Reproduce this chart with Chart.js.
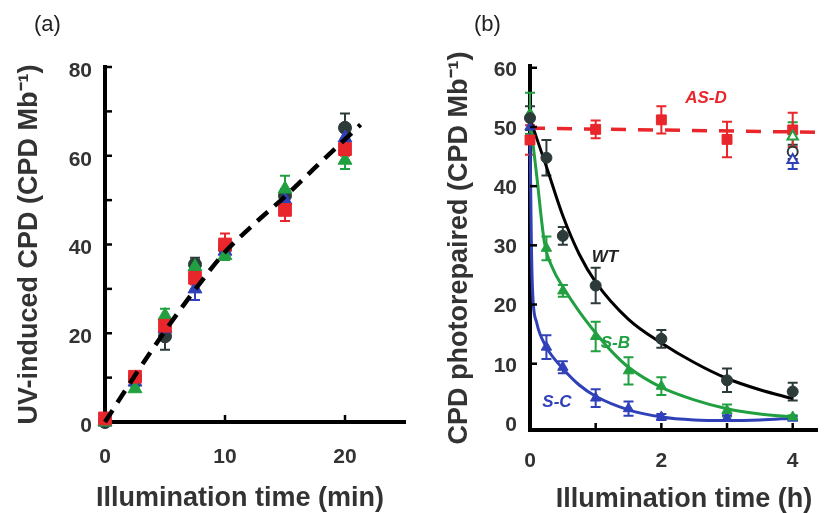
<!DOCTYPE html>
<html>
<head>
<meta charset="utf-8">
<script src="https://cdn.jsdelivr.net/npm/chart.js@4"></script>
<style>
body { margin: 0; background: #fff; width: 825px; height: 513px; overflow: hidden; position: relative; font-family: "Liberation Sans", Arial, sans-serif; }
#wa { position: absolute; left: 0; top: 0; width: 415px; height: 513px; }
#wb { position: absolute; left: 415px; top: 0; width: 410px; height: 513px; }
.tag { position: absolute; top: 11px; font-size: 22px; color: #222; }
.xt { position: absolute; width: 300px; text-align: center; font-size: 27px; font-weight: bold; color: #333; line-height: 32px; }
</style>
</head>
<body>
<div id="wa"><canvas id="chartA"></canvas></div>
<div id="wb"><canvas id="chartB"></canvas></div>
<div class="tag" style="left:34px">(a)</div>
<div class="tag" style="left:474px">(b)</div>
<div class="xt" style="left:90px;top:481px">Illumination time (min)</div>
<div class="xt" style="left:534px;top:482px">Illumination time (h)</div>
<script>
// panel (a): CPD induction
const timeA = [0, 2.5, 5, 7.5, 10, 15, 20];
const wtA = [0, 10, 19.3, 35.5, 39, 51, 66.3];
const wtErrA = [0, 0.5, 3, 1.5, 1.5, 1.5, 3.2];
const sbA = [0, 7.5, 24, 35, 37.5, 52.5, 59];
const sbErrA = [0, 0.5, 1.5, 1.5, 1, 3, 2];
const scA = [0, 9, 21, 30, 38.5, 50, 64];
const scErrA = [0, 0.5, 1, 2.5, 1, 1.5, 1.5];
const asdA = [0.8, 10.2, 21.7, 32.5, 40, 47.8, 61.5];
const asdErrA = [0, 0.5, 1, 1.5, 2.5, 2.5, 1.5];
const fitTimeA = [0, 2.5, 5, 7.5, 10, 12.5, 15, 17.5, 20, 21.3];
const fitA = [0, 10.5, 20.5, 29.8, 38.3, 44.8, 50.8, 57.3, 63.7, 67];
const xTicksA = [0, 10, 20];
const yTicksA = [0, 10, 20, 30, 40, 50, 60, 70, 80];

// panel (b): photorepair
const timeB = [0, 0.25, 0.5, 1, 1.5, 2, 3, 4];
const wtTimeB = [0, 0.25, 0.5, 1, 2, 3, 4];
const wtB = [51.5, 44.8, 31.6, 23.2, 14.2, 7.2, 5.3];
const wtErrB = [2, 3, 1.5, 3, 1.5, 2, 1.5];
const sbB = [52.3, 29.5, 22.3, 14.6, 8.8, 6.2, 2.1, 1.0];
const sbErrB = [3.5, 2, 1, 2.5, 2.3, 1.5, 1, 0.3];
const scB = [50, 12.8, 9.4, 4.2, 2.4, 1, 0.8, 0.8];
const scErrB = [0, 2, 1, 1.5, 1.2, 0.5, 0.5, 0.3];
const asdTimeB = [0, 1, 2, 3, 4];
const asdB = [47.8, 49.6, 51.2, 47.9, 49.5];
const asdErrB = [2.5, 1.5, 2.3, 3, 2.9];
const darkTimeB = [4];
const wtDarkB = [45.8];
const wtDarkErrB = [1.2];
const sbDarkB = [48.4];
const sbDarkErrB = [2.4];
const scDarkB = [44.4];
const scDarkErrB = [1.5];

const fitWtTimeB = [0, 0.25, 0.5, 0.75, 1, 1.5, 2, 2.5, 3, 3.5, 4];
const fitWtB = [51.4, 43.3, 35, 28.5, 23.8, 17.5, 13.5, 10.2, 7.5, 5.6, 4.1];
const fitSbTimeB = [0, 0.1, 0.22, 0.35, 0.5, 0.75, 1, 1.25, 1.5, 2, 2.5, 3, 3.5, 4];
const fitSbB = [51.4, 42, 30.5, 26, 23, 18.8, 15.2, 12, 9.4, 6, 3.9, 2.4, 1.5, 1.0];
const fitScTimeB = [0, 0.02, 0.04, 0.1, 0.25, 0.5, 0.75, 1, 1.5, 2, 2.5, 3, 3.5, 4];
const fitScB = [49, 31, 22, 17, 12.8, 9.2, 6.4, 4.5, 2.2, 1, 0.5, 0.4, 0.5, 0.8];
const fitAsdTimeB = [0, 4.37];
const fitAsdB = [49.8, 49.1];
const xTicksB = [0, 1, 2, 3, 4];
const yTicksB = [0, 10, 20, 30, 40, 50, 60];

const curveNames = ['AS-D', 'WT', 'S-B', 'S-C'];
const nameX = [2.68, 1.14, 1.3, 0.41];
const nameY = [54.9, 28, 13.5, 3.4];

const RED = '#e8262b', GREEN = '#20a040', BLUE = '#3040b8', DARK = '#2c3a3a';
const nameColors = [RED, '#222', GREEN, BLUE];

Chart.defaults.font.family = '"Liberation Sans", Arial, sans-serif';
Chart.defaults.color = '#333';

function pts(xs, ys) {
    return xs.map((x, i) => ({ x: x, y: ys[i] }));
}

const errorBars = {
    id: 'errorBars',
    beforeDatasetsDraw(chart) {
        const { ctx, scales: { x, y } } = chart;
        ctx.save();
        ctx.lineWidth = 2;
        chart.data.datasets.forEach(ds => {
            if (!ds.errors) return;
            ctx.strokeStyle = ds.borderColor;
            const cap = ds.cap || 5;
            ds.data.forEach((p, i) => {
                const e = ds.errors[i];
                if (!e) return;
                const px = x.getPixelForValue(p.x);
                const top = y.getPixelForValue(p.y + e);
                const bot = y.getPixelForValue(p.y - e);
                ctx.beginPath();
                ctx.moveTo(px, top); ctx.lineTo(px, bot);
                ctx.moveTo(px - cap, top); ctx.lineTo(px + cap, top);
                ctx.moveTo(px - cap, bot); ctx.lineTo(px + cap, bot);
                ctx.stroke();
            });
        });
        ctx.restore();
    }
};

// ticks drawn inside the plot, as in the figure
const inTicks = {
    id: 'inTicks',
    afterDraw(chart) {
        const { ctx, chartArea: a, scales: { x, y } } = chart;
        ctx.save();
        ctx.strokeStyle = '#000';
        ctx.lineWidth = 2.5;
        y.ticks.forEach(t => {
            if (t.value === 0) return;
            const py = y.getPixelForValue(t.value);
            ctx.beginPath(); ctx.moveTo(a.left, py); ctx.lineTo(a.left + 7, py); ctx.stroke();
        });
        x.ticks.forEach(t => {
            if (t.value === 0) return;
            const px = x.getPixelForValue(t.value);
            ctx.beginPath(); ctx.moveTo(px, a.bottom); ctx.lineTo(px, a.bottom - 7); ctx.stroke();
        });
        ctx.restore();
    }
};

const curveLabels = {
    id: 'curveLabels',
    afterDraw(chart) {
        const { ctx, scales: { x, y } } = chart;
        ctx.save();
        ctx.font = 'italic bold 17px "Liberation Sans", Arial, sans-serif';
        ctx.textAlign = 'center';
        ctx.textBaseline = 'middle';
        curveNames.forEach((n, i) => {
            ctx.fillStyle = nameColors[i];
            ctx.fillText(n, x.getPixelForValue(nameX[i]), y.getPixelForValue(nameY[i]));
        });
        ctx.restore();
    }
};

function axes(o) {
    return {
        x: {
            type: 'linear', min: o.xmin, max: o.xmax,
            afterBuildTicks: s => { s.ticks = o.xticks.map(v => ({ value: v })); },
            afterFit: s => { s.height = o.xh; },
            grid: { display: false, drawTicks: false },
            border: { color: '#000', width: 4 },
            ticks: { font: { size: 21, weight: 'bold' }, color: '#333', padding: o.xpad, maxRotation: 0,
                     callback: v => o.xlab.includes(v) ? v : '' }
        },
        y: {
            type: 'linear', min: o.ymin, max: o.ymax,
            afterBuildTicks: s => { s.ticks = o.yticks.map(v => ({ value: v })); },
            afterFit: s => { s.width = o.yw; },
            grid: { display: false, drawTicks: false },
            border: { color: '#000', width: 4 },
            ticks: { font: { size: 21, weight: 'bold' }, color: '#333', padding: 13, labelOffset: o.loff,
                     callback: v => v % o.ystep === 0 ? v : '' },
            title: { display: true, text: o.ytitle, font: { size: 27, weight: 'bold' }, color: '#333',
                     padding: { top: o.tpad, bottom: 0 } }
        }
    };
}

function marker(label, xs, ys, errs, color, style, r, fill) {
    return {
        label: label, data: pts(xs, ys), errors: errs,
        borderColor: color, backgroundColor: fill || color,
        pointStyle: style, pointRadius: r, pointBorderWidth: fill ? 2 : 1,
        showLine: false
    };
}

function curve(label, xs, ys, color, width, dash) {
    return {
        label: label, data: pts(xs, ys), borderColor: color, borderWidth: width,
        borderDash: dash || [], pointRadius: 0, showLine: true,
        cubicInterpolationMode: 'monotone', fill: false
    };
}

document.addEventListener('DOMContentLoaded', function () {
    new Chart(document.getElementById('chartA'), {
        type: 'scatter',
        data: {
            datasets: [
                curve('Fit', fitTimeA, fitA, '#000', 4.5, [14, 9]),
                marker('AS-D', timeA, asdA, asdErrA, RED, 'rect', 9),
                marker('S-B', timeA, sbA, sbErrA, GREEN, 'triangle', 8),
                marker('S-C', timeA, scA, scErrA, BLUE, 'triangle', 8),
                marker('WT', timeA, wtA, wtErrA, DARK, 'circle', 6.5)
            ]
        },
        options: {
            responsive: true, maintainAspectRatio: false, animation: false,
            clip: false,
            layout: { padding: { top: 67, right: 8, left: 0, bottom: 0 } },
            plugins: { legend: { display: false }, tooltip: { enabled: false } },
            scales: axes({ xmin: 0, xmax: 25, xticks: xTicksA, xlab: xTicksA, xh: 91, xpad: 23,
                           ymin: 0, ymax: 80, yticks: yTicksA, ystep: 20, yw: 105, loff: 4,
                           ytitle: 'UV-induced CPD (CPD Mb\u207B\u00B9)', tpad: 13 })
        },
        plugins: [errorBars, inTicks]
    });

    new Chart(document.getElementById('chartB'), {
        type: 'scatter',
        data: {
            datasets: [
                marker('S-B dark', darkTimeB, sbDarkB, sbDarkErrB, GREEN, 'triangle', 6, '#fff'),
                marker('S-C dark', darkTimeB, scDarkB, scDarkErrB, BLUE, 'triangle', 6, '#fff'),
                marker('WT dark', darkTimeB, wtDarkB, wtDarkErrB, DARK, 'circle', 5, '#fff'),
                marker('AS-D', asdTimeB, asdB, asdErrB, RED, 'rect', 7),
                marker('WT', wtTimeB, wtB, wtErrB, DARK, 'circle', 5.5),
                marker('S-B', timeB, sbB, sbErrB, GREEN, 'triangle', 6),
                marker('S-C', timeB, scB, scErrB, BLUE, 'triangle', 6),
                curve('AS-D fit', fitAsdTimeB, fitAsdB, RED, 3.5, [15, 12]),
                curve('WT fit', fitWtTimeB, fitWtB, '#000', 3),
                curve('S-B fit', fitSbTimeB, fitSbB, GREEN, 3),
                curve('S-C fit', fitScTimeB, fitScB, BLUE, 3)
            ]
        },
        options: {
            responsive: true, maintainAspectRatio: false, animation: false,
            clip: false,
            layout: { padding: { top: 66, right: 0, left: 0, bottom: 0 } },
            plugins: { legend: { display: false }, tooltip: { enabled: false } },
            scales: axes({ xmin: 0, xmax: 4.37, xticks: xTicksB, xlab: [0, 2, 4], xh: 83, xpad: 19,
                           ymin: -1.2, ymax: 60.3, yticks: yTicksB, ystep: 10, yw: 115, loff: 2,
                           ytitle: 'CPD photorepaired (CPD Mb\u207B\u00B9)', tpad: 28 })
        },
        plugins: [errorBars, inTicks, curveLabels]
    });
});
</script>
</body>
</html>
